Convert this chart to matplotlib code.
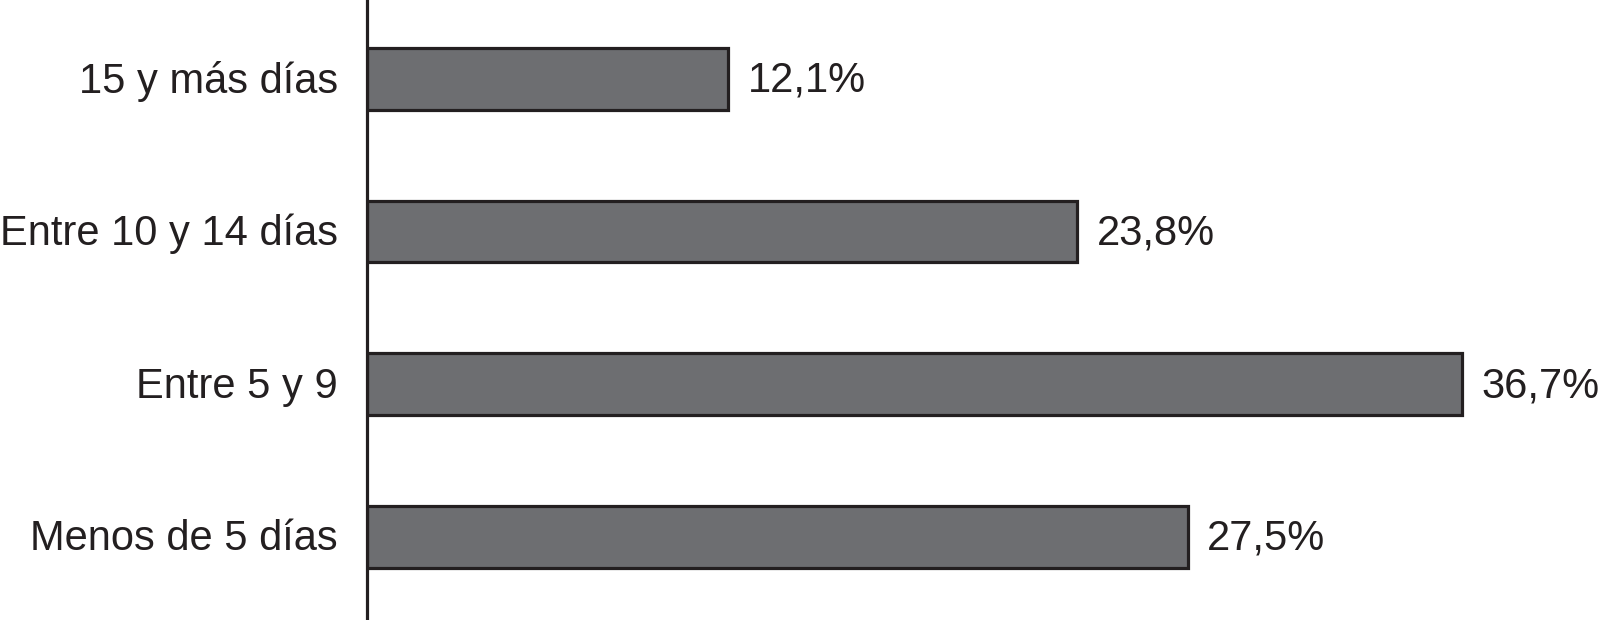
import matplotlib
matplotlib.use('Agg')
import matplotlib.pyplot as plt

# data, bottom to top
categories = ['Menos de 5 días', 'Entre 5 y 9', 'Entre 10 y 14 días', '15 y más días']
values = [27.5, 36.7, 23.8, 12.1]
value_labels = ['27,5%', '36,7%', '23,8%', '12,1%']

plt.rcParams['font.family'] = ['Liberation Sans', 'DejaVu Sans']

fig = plt.figure(figsize=(16.01, 6.2), dpi=100)
ax = fig.add_axes([367 / 1601, 0, 1 - 367 / 1601, 1])

ypos = range(len(categories))
ax.barh(ypos, values, height=0.405, color='#6d6e71', edgecolor='#231f20', linewidth=2.3)

for y, v, lab in zip(ypos, values, value_labels):
    ax.text(v + 0.65, y - 0.012, lab, va='center', ha='left', fontsize=30, color='#231f20')

ax.set_xlim(0, 1234 / 29.85)
ax.set_ylim(-0.543, 3.516)
ax.set_yticks([y + 0.015 for y in ypos])
ax.set_yticklabels(categories, fontsize=30, color='#231f20')
ax.tick_params(axis='y', length=0, pad=21)
ax.set_xticks([])

for side in ['top', 'right', 'bottom']:
    ax.spines[side].set_visible(False)
ax.spines['left'].set_linewidth(2.3)
ax.spines['left'].set_color('#231f20')

fig.savefig('out.png', dpi=100)
